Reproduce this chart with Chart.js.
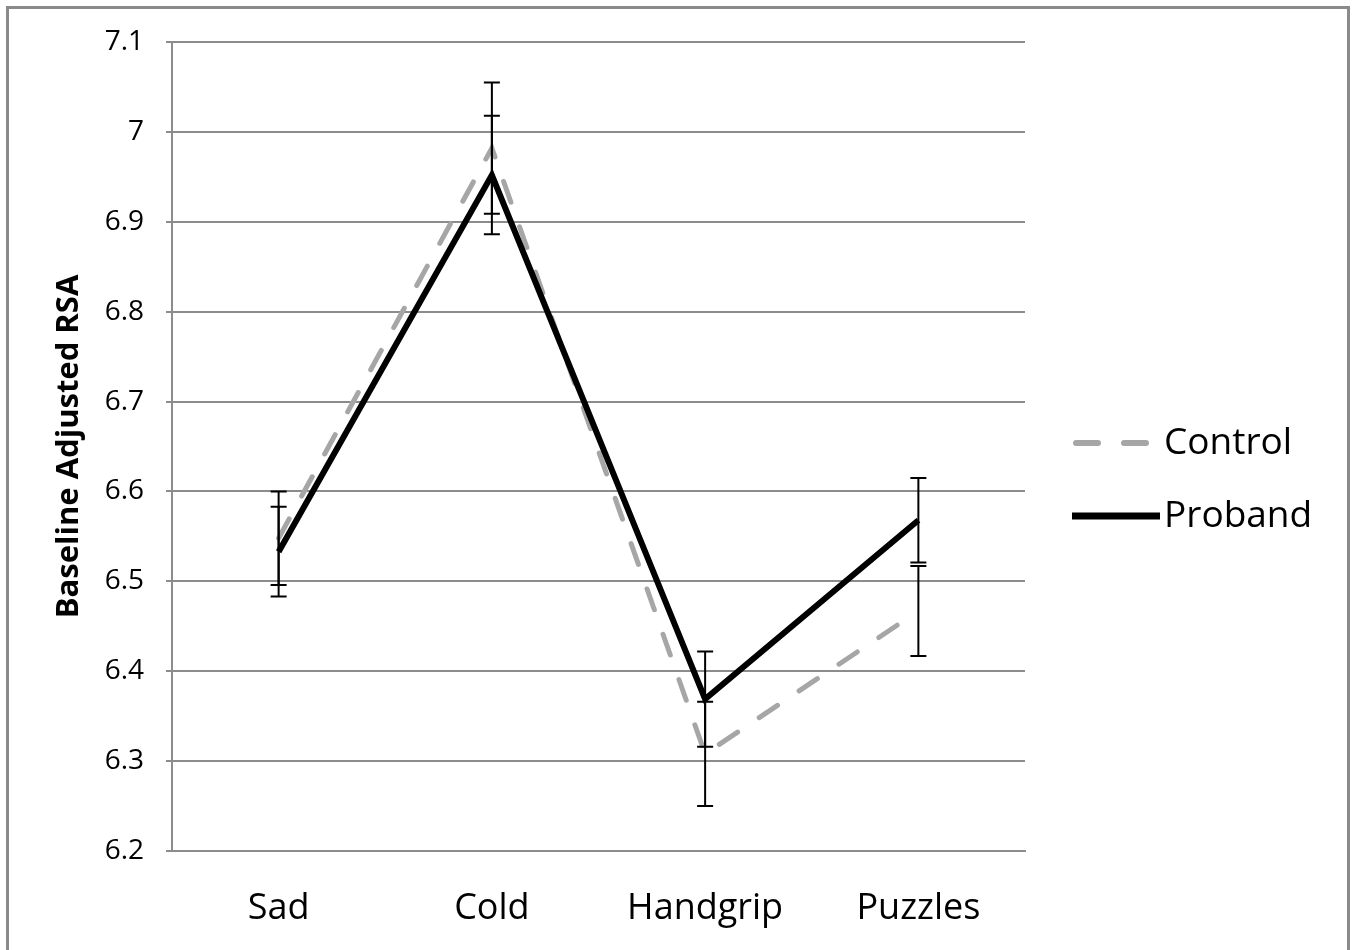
<!DOCTYPE html>
<html>
<head>
<meta charset="utf-8">
<script src="https://cdn.jsdelivr.net/npm/chart.js@4"></script>
<style>
  html, body { margin: 0; padding: 0; background: #fff; }
  #wrap { width: 1355px; height: 950px; }
</style>
</head>
<body>
<div id="wrap"><canvas id="rsaChart" width="1355" height="950"></canvas></div>
<script>
// values
const tasks = ['Sad', 'Cold', 'Handgrip', 'Puzzles'];
const controlMeans = [6.548, 6.982, 6.308, 6.467];
const controlErr = [0.052, 0.073, 0.058, 0.05];
const probandMeans = [6.533, 6.952, 6.369, 6.568];
const probandErr = [0.05, 0.066, 0.053, 0.047];
const yTicks = [6.2, 6.3, 6.4, 6.5, 6.6, 6.7, 6.8, 6.9, 7, 7.1];

const font = "'Open Sans', 'DejaVu Sans', sans-serif";
const gridGray = '#8c8c8c';

const errorBars = {
    id: 'errorBars',
    afterDatasetsDraw(chart) {
        const ctx = chart.ctx;
        const xs = chart.scales.x, ys = chart.scales.y;
        const sets = [[controlMeans, controlErr], [probandMeans, probandErr]];
        ctx.save();
        ctx.strokeStyle = '#000';
        ctx.lineWidth = 2;
        sets.forEach(function(s) {
            s[0].forEach(function(m, i) {
                const x = xs.getPixelForValue(i);
                const top = ys.getPixelForValue(m + s[1][i]);
                const bot = ys.getPixelForValue(m - s[1][i]);
                ctx.beginPath();
                ctx.moveTo(x, top); ctx.lineTo(x, bot);
                ctx.moveTo(x - 8, top); ctx.lineTo(x + 8, top);
                ctx.moveTo(x - 8, bot); ctx.lineTo(x + 8, bot);
                ctx.stroke();
            });
        });
        ctx.restore();
    }
};

const frameAndLegend = {
    id: 'frameAndLegend',
    afterDraw(chart) {
        const ctx = chart.ctx;
        ctx.save();
        // outer frame
        ctx.strokeStyle = '#8a8a8a';
        ctx.lineWidth = 3;
        ctx.strokeRect(7.5, 7.5, 1341, 960);
        // legend
        ctx.lineCap = 'round';
        ctx.strokeStyle = '#a6a6a6';
        ctx.lineWidth = 6;
        ctx.setLineDash([22, 26]);
        ctx.beginPath(); ctx.moveTo(1076, 443); ctx.lineTo(1146, 443); ctx.stroke();
        ctx.setLineDash([]);
        ctx.lineCap = 'butt';
        ctx.strokeStyle = '#000';
        ctx.lineWidth = 7;
        ctx.beginPath(); ctx.moveTo(1072, 516); ctx.lineTo(1160, 516); ctx.stroke();
        ctx.fillStyle = '#000';
        ctx.font = '37px ' + font;
        ctx.textBaseline = 'middle';
        ctx.fillText('Control', 1164, 443);
        ctx.fillText('Proband', 1164, 516);
        ctx.restore();
    }
};

new Chart(document.getElementById('rsaChart'), {
    type: 'line',
    data: {
        labels: tasks,
        datasets: [{
            label: 'Control',
            data: controlMeans,
            borderColor: '#a6a6a6',
            borderWidth: 5,
            borderDash: [22, 26],
            borderCapStyle: 'round',
            pointRadius: 0,
            tension: 0,
            order: 1
        }, {
            label: 'Proband',
            data: probandMeans,
            borderColor: '#000',
            borderWidth: 6,
            pointRadius: 0,
            tension: 0,
            order: 0
        }]
    },
    options: {
        responsive: false,
        animation: false,
        layout: { padding: { top: 42, right: 330, bottom: 0, left: 0 } },
        plugins: { legend: { display: false }, tooltip: { enabled: false } },
        scales: {
            x: {
                offset: true,
                grid: { display: false, drawTicks: false },
                border: { display: true, color: gridGray, width: 2 },
                ticks: { color: '#000', font: { family: font, size: 36 }, padding: 36 },
                afterFit(scale) { scale.height = 99; }
            },
            y: {
                min: 6.2,
                max: 7.1,
                afterBuildTicks(scale) { scale.ticks = yTicks.map(v => ({ value: v })); },
                grid: { color: gridGray, lineWidth: 2, tickLength: 6 },
                border: { color: gridGray, width: 2 },
                ticks: {
                    color: '#000',
                    font: { family: font, size: 28 },
                    padding: 22,
                    callback: v => String(v)
                },
                title: {
                    display: true,
                    text: 'Baseline Adjusted RSA',
                    color: '#000',
                    font: { family: font, size: 31, weight: 'bold' },
                    padding: { top: 51, bottom: 0 }
                },
                afterFit(scale) { scale.width = 172; }
            }
        }
    },
    plugins: [errorBars, frameAndLegend]
});
</script>
</body>
</html>
